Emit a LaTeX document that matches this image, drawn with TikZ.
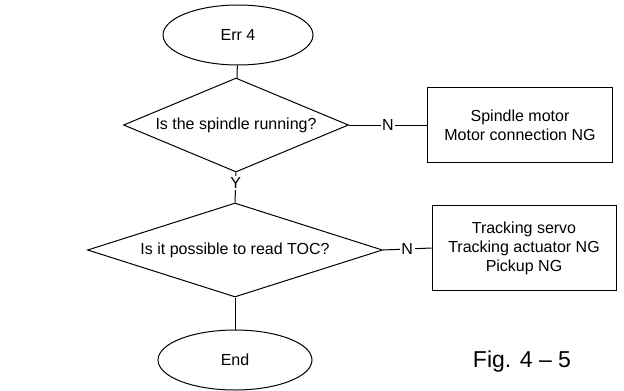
\documentclass[tikz,border=0pt]{standalone}
\usepackage{fontspec}
\setmainfont{Liberation Sans}
\usetikzlibrary{shapes.geometric}
\tikzset{
  term/.style={draw,ellipse,line width=1pt,minimum width=150pt,minimum height=60pt,inner sep=0pt},
  ask/.style={draw,diamond,line width=1pt,inner sep=0pt},
  fault/.style={draw,rectangle,line width=1pt,align=center,inner sep=0pt},
  lbl/.style={fill=white,inner sep=1.5pt},
}
\begin{document}
\begin{tikzpicture}[x=1pt,y=-1pt,line width=1pt,font=\fontsize{16}{19}\selectfont]
\useasboundingbox (0,0) rectangle (624,391);
\node[term] (err) at (238,35) {Err 4};
\node[ask,aspect=2.4,minimum width=225pt,minimum height=94pt] (spin) at (236,125) {Is the spindle running?};
\node[ask,aspect=3.1,minimum width=295pt,minimum height=94pt] (toc) at (235,250) {Is it possible to read TOC?};
\node[term,minimum width=154pt] (fin) at (235,360) {End};
\node[fault,minimum width=185pt,minimum height=75pt] (motor) at (520,125) {Spindle motor\\Motor connection NG};
\node[fault,minimum width=184pt,minimum height=85pt] (pick) at (524,248) {Tracking servo\\Tracking actuator NG\\Pickup NG};
\node[font=\fontsize{23}{26}\selectfont] (fig) at (522,362) {Fig. 4 -- 5};
\draw (err) -- (spin);
\draw (spin.south) -- node[lbl,pos=0.35] {Y} (toc.north);
\draw (toc.south) -- (fin);
\draw (spin.east) -- node[lbl] {N} (motor.west);
\draw (toc.east) -- node[lbl] {N} (pick.west);
\end{tikzpicture}
\end{document}
